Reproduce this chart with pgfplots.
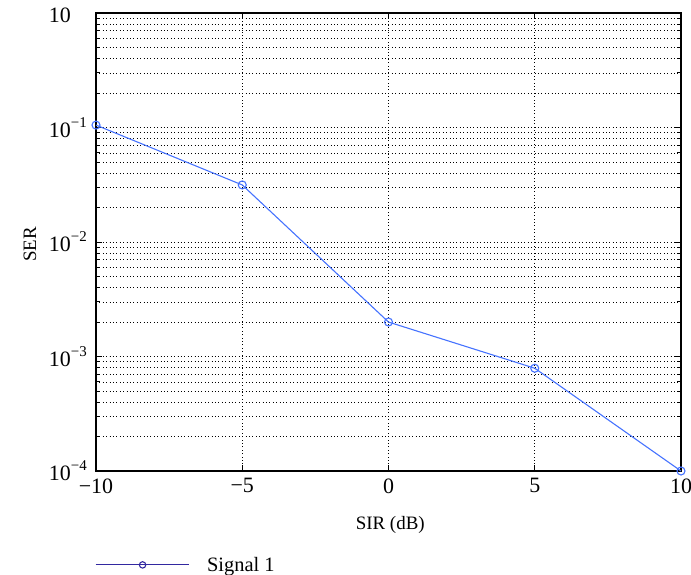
\documentclass[border=0pt]{standalone}
\usepackage{pgfplots}
\pgfplotsset{compat=1.18}
\usepackage{fontspec}
\setmainfont{Liberation Serif}
\definecolor{plotblue}{RGB}{70,115,255}
\definecolor{legblue}{RGB}{50,40,160}
\newcommand{\sexp}[1]{\raisebox{1.0ex}{\fontsize{15}{15}\selectfont #1}}
\begin{document}
\begin{tikzpicture}
\fontsize{19}{22}\selectfont
\path[use as bounding box] (-96bp,-104bp) rectangle (595bp,471bp);
\begin{axis}[
  at={(0,0)}, anchor=south west,
  scale only axis, width=585bp, height=458bp,
  ymode=log,
  xmin=-10, xmax=10, ymin=1e-4, ymax=1,
  xtick={-10,-5,0,5,10},
  xticklabels={−10,−5,0,5,10},
  ytick={1e-4,1e-3,1e-2,1e-1,1},
  yticklabels={10\sexp{−4},10\sexp{−3},10\sexp{−2},10\sexp{−1},10\sexp{\phantom{−1}}},
  tick label style={font=\fontsize{22}{24}\selectfont},
  yticklabel style={align=right, inner sep=2bp, xshift=-7bp},
  xticklabel style={yshift=-1bp},
  label style={font=\fontsize{18.5}{21}\selectfont},
  xlabel={SIR (dB)}, ylabel={SER},
  every axis x label/.style={at={(axis description cs:0.503,-0.118)},anchor=center},
  every axis y label/.style={at={(axis description cs:-0.113,0.495)},rotate=90,anchor=center},
  grid=major, yminorgrids=true,
  major grid style={black, line width=0.7bp, dash pattern=on 0.8bp off 2.6bp},
  minor grid style={black, line width=0.7bp, dash pattern=on 0.8bp off 2.6bp},
  tick align=inside,
  major tick length=6bp, minor tick length=4bp,
  every tick/.style={black, line width=0.9bp},
  axis line style={black, line width=1.3bp},
  legend style={at={(axis description cs:-0.002,-0.205)}, anchor=west, draw=none, fill=none,
    font=\fontsize{20.5}{23}\selectfont, inner sep=0pt,
    legend cell align=left,
    nodes={inner sep=0pt, text depth=0pt},
    /tikz/every even column/.append style={column sep=18bp}},
  legend image code/.code={%
    \draw[mark repeat=2,mark phase=2,#1] plot coordinates {(0bp,0bp) (47bp,0bp) (93bp,0bp)};},
]
\addplot[color=plotblue, line width=1.1bp, mark=o, mark size=4bp, forget plot]
  coordinates {(-10,0.105) (-5,0.0315) (0,0.002) (5,0.00079) (10,0.0001)};
\addlegendimage{color=legblue, line width=1.1bp, mark=o, mark size=3.2bp, mark options={line width=1.1bp}}
\addlegendentry{\hspace{18bp}Signal 1}
\end{axis}
\end{tikzpicture}
\end{document}
